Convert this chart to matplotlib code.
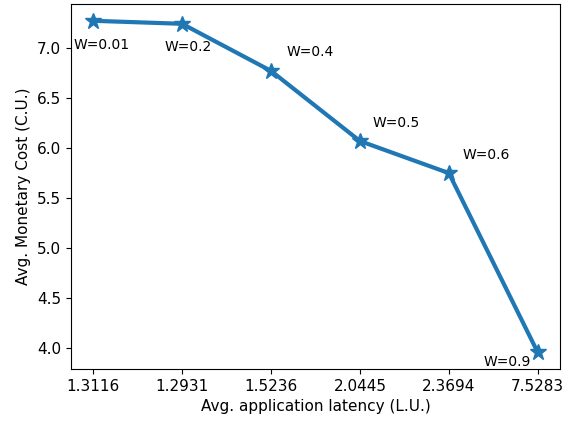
import matplotlib
matplotlib.use("Agg")
import matplotlib.pyplot as plt

latency_labels = ["1.3116", "1.2931", "1.5236", "2.0445", "2.3694", "7.5283"]
cost = [7.27, 7.24, 6.77, 6.07, 5.75, 3.96]
w_labels = ["W=0.01", "W=0.2", "W=0.4", "W=0.5", "W=0.6", "W=0.9"]
offsets = [(-20, -24), (-18, -23), (16, 19), (13, 18), (14, 18), (-54, -10)]

fig = plt.figure(figsize=(5.72, 4.21), dpi=100)
ax = fig.add_axes([0.124, 0.1235, 0.855, 0.8665])
x = list(range(len(cost)))
ax.plot(x, cost, marker="*", markersize=12, linewidth=3, color="#1f77b4")
for xi, yi, lab, off in zip(x, cost, w_labels, offsets):
    ax.annotate(lab, (xi, yi), xytext=off, textcoords="offset pixels",
                ha="left", va="center", fontsize=10)
ax.set_xticks(x)
ax.set_xticklabels(latency_labels, fontsize=11)
ax.tick_params(axis="y", labelsize=11)
ax.set_xlabel("Avg. application latency (L.U.)", fontsize=11)
ax.set_ylabel("Avg. Monetary Cost (C.U.)", fontsize=11)
fig.savefig("out.png", dpi=100)
